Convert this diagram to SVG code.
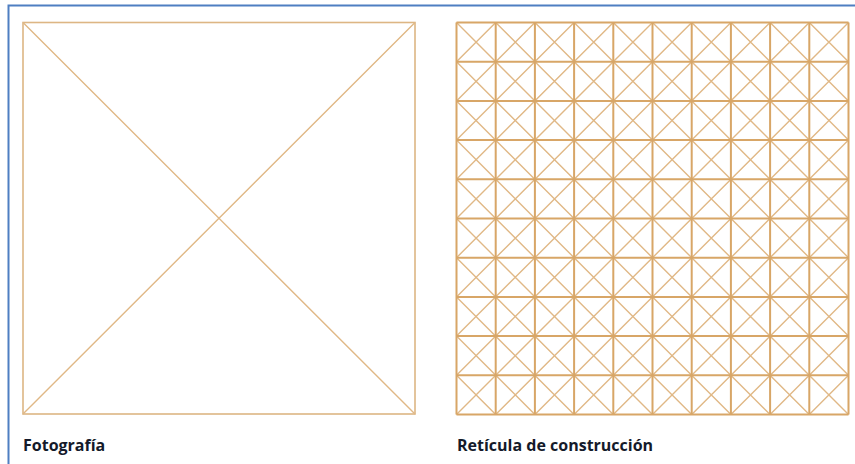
<svg xmlns="http://www.w3.org/2000/svg" width="855" height="464" viewBox="0 0 855 464">
<style>
.frame{fill:none;stroke:#4f7fc2;stroke-width:2}
.box{fill:none;stroke:#ddb684;stroke-width:1.6}
.diag{fill:none;stroke:#e0b886;stroke-width:1.4}
.grid{fill:none;stroke:#d8a667;stroke-width:2}
.lbl{font-family:"Open Sans","Liberation Sans",sans-serif;font-weight:bold;font-size:16px;fill:#141a2a}
</style>
<rect width="855" height="464" fill="#ffffff"/>
<path class="frame" d="M8.5 464 V5.5 H855"/>
<g id="fotografia">
<rect class="box" x="23" y="22.5" width="392" height="391.5"/>
<path class="diag" d="M23 22.5 L415 414 M415 22.5 L23 414"/>
<text class="lbl" x="23" y="451">Fotografía</text>
</g>
<g id="reticula">
<path class="diag" d="M456.5 22.5 L848.5 414.5 M495.7 22.5 L848.5 375.3 M534.9 22.5 L848.5 336.1 M574.1 22.5 L848.5 296.9 M613.3 22.5 L848.5 257.7 M652.5 22.5 L848.5 218.5 M691.7 22.5 L848.5 179.3 M730.9 22.5 L848.5 140.1 M770.1 22.5 L848.5 100.9 M809.3 22.5 L848.5 61.7
M456.5 61.7 L809.3 414.5 M456.5 100.9 L770.1 414.5 M456.5 140.1 L730.9 414.5 M456.5 179.3 L691.7 414.5 M456.5 218.5 L652.5 414.5 M456.5 257.7 L613.3 414.5 M456.5 296.9 L574.1 414.5 M456.5 336.1 L534.9 414.5 M456.5 375.3 L495.7 414.5
M495.7 22.5 L456.5 61.7 M534.9 22.5 L456.5 100.9 M574.1 22.5 L456.5 140.1 M613.3 22.5 L456.5 179.3 M652.5 22.5 L456.5 218.5 M691.7 22.5 L456.5 257.7 M730.9 22.5 L456.5 296.9 M770.1 22.5 L456.5 336.1 M809.3 22.5 L456.5 375.3 M848.5 22.5 L456.5 414.5
M848.5 61.7 L495.7 414.5 M848.5 100.9 L534.9 414.5 M848.5 140.1 L574.1 414.5 M848.5 179.3 L613.3 414.5 M848.5 218.5 L652.5 414.5 M848.5 257.7 L691.7 414.5 M848.5 296.9 L730.9 414.5 M848.5 336.1 L770.1 414.5 M848.5 375.3 L809.3 414.5"/>
<path class="grid" d="M456.5 22.5 V414.5 M495.7 22.5 V414.5 M534.9 22.5 V414.5 M574.1 22.5 V414.5 M613.3 22.5 V414.5 M652.5 22.5 V414.5 M691.7 22.5 V414.5 M730.9 22.5 V414.5 M770.1 22.5 V414.5 M809.3 22.5 V414.5 M848.5 22.5 V414.5
M456.5 22.5 H848.5 M456.5 61.7 H848.5 M456.5 100.9 H848.5 M456.5 140.1 H848.5 M456.5 179.3 H848.5 M456.5 218.5 H848.5 M456.5 257.7 H848.5 M456.5 296.9 H848.5 M456.5 336.1 H848.5 M456.5 375.3 H848.5 M456.5 414.5 H848.5"/>
<text class="lbl" x="457" y="451">Retícula de construcción</text>
</g>
</svg>
